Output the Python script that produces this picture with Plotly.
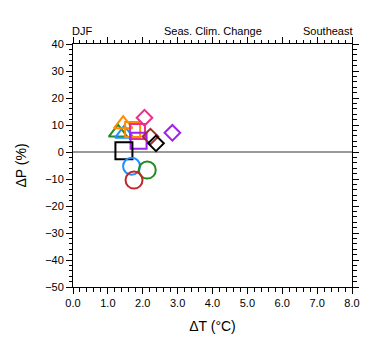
import plotly.graph_objects as go

# Data
models = ["M1", "M2", "M3", "M4", "M5", "M6", "M7", "M8", "M9", "M10", "M11", "M12", "M13", "M14"]
dT = [1.29, 1.47, 1.44, 1.71, 1.85, 1.88, 1.46, 2.05, 2.85, 2.22, 2.38, 1.68, 2.13, 1.75]
dP = [7.2, 6.8, 10.3, 8.3, 7.6, 4.2, 0.5, 12.7, 7.1, 5.7, 3.2, -5.3, -6.7, -10.4]

# Styles
symbols = ["triangle-up-open", "triangle-up-open", "triangle-up-open",
           "square-open", "square-open", "square-open", "square-open",
           "diamond-open", "diamond-open", "diamond-open", "diamond-open",
           "circle-open", "circle-open", "circle-open"]
colors = ["#228B22", "#1E90FF", "#FF8C00",
          "#FF8C00", "#E8308C", "#A020F0", "#000000",
          "#E8308C", "#A020F0", "#A52A2A", "#000000",
          "#1E90FF", "#228B22", "#C0262A"]
sizes = [16, 16, 16, 15, 15, 16, 17, 12, 12, 12, 12, 17, 17, 17]

x_ticks = [0, 1, 2, 3, 4, 5, 6, 7, 8]
x_labels = ["0.0", "1.0", "2.0", "3.0", "4.0", "5.0", "6.0", "7.0", "8.0"]
y_ticks = [40, 30, 20, 10, 0, -10, -20, -30, -40, -50]

fig = go.Figure()
for m, xv, yv, s, c, sz in zip(models, dT, dP, symbols, colors, sizes):
    fig.add_trace(go.Scatter(
        x=[xv], y=[yv], mode="markers", name=m, showlegend=False,
        marker=dict(symbol=s, size=sz, color=c, line=dict(color=c, width=2)),
    ))

font = "Liberation Sans, Arial, Helvetica, sans-serif"
axis_common = dict(
    showgrid=False, showline=True, linecolor="black", linewidth=1,
    mirror="allticks", ticks="outside", ticklen=6, tickwidth=1, tickcolor="black",
    tickfont=dict(size=11, color="black", family=font),
)
fig.update_xaxes(
    range=[0, 8], tickvals=x_ticks, ticktext=x_labels,
    minor=dict(dtick=0.2, ticklen=3.5, tickwidth=1, tickcolor="black", ticks="outside"),
    title=dict(text="ΔT (°C)", font=dict(size=14, color="black", family=font), standoff=12),
    zeroline=False, **axis_common,
)
fig.update_yaxes(
    range=[-50, 40], tickvals=y_ticks,
    minor=dict(dtick=2, ticklen=3.5, tickwidth=1, tickcolor="black", ticks="outside"),
    title=dict(text="ΔP (%)", font=dict(size=14, color="black", family=font), standoff=15),
    zeroline=True, zerolinecolor="#9a9a9a", zerolinewidth=1.5,
    **axis_common,
)

title_font = dict(size=11, color="black", family=font)
fig.add_annotation(text="DJF", x=0, y=1, xref="paper", yref="paper",
                   xanchor="left", yanchor="bottom", xshift=-3, yshift=5,
                   showarrow=False, font=title_font)
fig.add_annotation(text="Seas. Clim. Change", x=0.5, y=1, xref="paper", yref="paper",
                   xanchor="center", yanchor="bottom", yshift=5,
                   showarrow=False, font=title_font)
fig.add_annotation(text="Southeast", x=1, y=1, xref="paper", yref="paper",
                   xanchor="right", yanchor="bottom", xshift=3, yshift=5,
                   showarrow=False, font=title_font)

# The page body has an 8px default margin, so the figure is shrunk by 8px
fig.update_layout(
    width=372, height=347,
    margin=dict(l=59, r=28, t=36, b=68),
    paper_bgcolor="white", plot_bgcolor="white",
    font=dict(family=font, color="black"),
)

fig.write_html("out.html")
